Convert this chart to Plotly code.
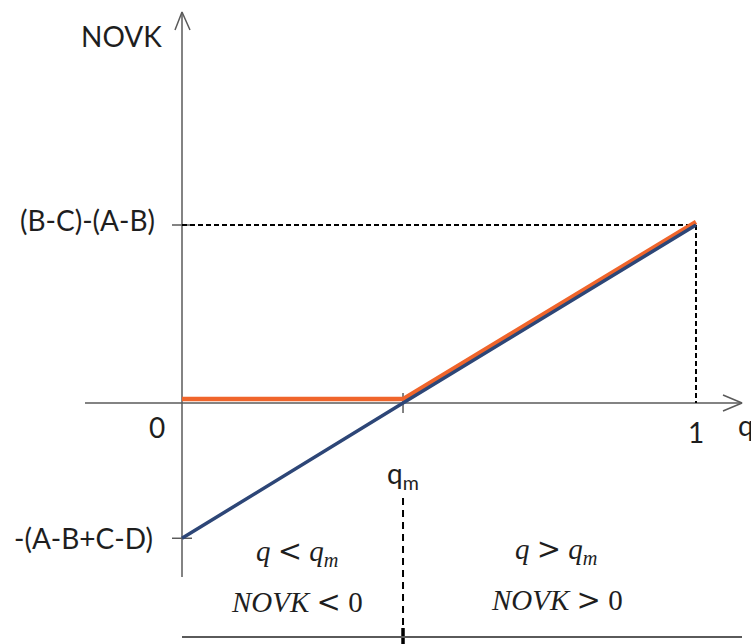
"""
NOVK payoff sketch: NOVK as a function of q, with the break-even point q_m.
"""
import plotly.graph_objects as go

# data
q_points = [0.0, 0.43, 1.0]              # 0, q_m, 1
novk_line = [-0.76, 0.0, 1.0]            # NOVK(q): -(A-B+C-D) ... (B-C)-(A-B)
novk_floor = [0.022, 0.022, 1.017]       # max(NOVK, 0), drawn just above the blue line
q_m = 0.43
top_value = 1.0
bottom_value = -0.76
y_tick_labels = ["(B-C)-(A-B)", "-(A-B+C-D)"]
x_tick_labels = ["0", "1"]
LT = "&nbsp;<span style='font-family:DejaVu Serif'>&lt;</span>&nbsp;"
GT = "&nbsp;<span style='font-family:DejaVu Serif'>&gt;</span>&nbsp;"
region_labels = [
    ("<i>q</i>" + LT + "<i>q<sub>m</sub></i>", "<i>NOVK</i>" + LT + "0"),
    ("<i>q</i>" + GT + "<i>q<sub>m</sub></i>", "<i>NOVK</i>" + GT + "0"),
]

W, H = 751, 644
PX_X = 1 / 514   # data units per pixel, horizontal
PX_Y = 1 / 178   # data units per pixel, vertical
x_range = [-182 * PX_X, (W - 182) * PX_X]
y_range = [-(H - 403) * PX_Y, 403 * PX_Y]

AXIS = "#5a5a5a"
BLUE = "#2d4677"
ORANGE = "#f0652b"
TEXT = "#1e1e1e"
LABEL_FONT = dict(family="Lato, Liberation Sans, sans-serif", size=28, color=TEXT)
MATH_FONT = dict(family="Liberation Serif, DejaVu Serif, serif", size=29, color=TEXT)

fig = go.Figure()


def seg(xs, ys, color, width, dash="solid"):
    fig.add_trace(go.Scatter(x=xs, y=ys, mode="lines", hoverinfo="skip",
                             line=dict(color=color, width=width, dash=dash)))


# axes with open arrow heads
y_top = 391 * PX_Y
y_bot = -174 * PX_Y
x_left = -97 * PX_X
x_right = 560 * PX_X
seg([0, 0], [y_bot, y_top], AXIS, 1.5)
seg([-7 * PX_X, 0, 8 * PX_X], [y_top - 18 * PX_Y, y_top, y_top - 18 * PX_Y], AXIS, 1.5)
seg([x_left, x_right], [0, 0], AXIS, 1.5)
seg([x_right - 19 * PX_X, x_right, x_right - 19 * PX_X], [8 * PX_Y, 0, -8 * PX_Y], AXIS, 1.5)

# ticks
seg([-10 * PX_X, 10 * PX_X], [top_value, top_value], AXIS, 1.5)
seg([-10 * PX_X, 10 * PX_X], [bottom_value, bottom_value], AXIS, 1.5)
seg([q_m, q_m], [-10 * PX_Y, 10 * PX_Y], AXIS, 1.5)

# guide lines
seg([0, 1], [top_value, top_value], "black", 2, "5px,3px")
seg([1, 1], [top_value, 0], "black", 2, "5px,3px")
seg([q_m, q_m], [-95 * PX_Y, -225 * PX_Y], "black", 2, "7px,5px")
seg([q_m, q_m], [-225 * PX_Y, -241 * PX_Y], "black", 3.5)
seg([0, x_right], [-234 * PX_Y, -234 * PX_Y], AXIS, 2)

# payoff lines
seg(q_points, novk_floor, ORANGE, 4.5)
seg(q_points, novk_line, BLUE, 3.5)


# labels
def label(text, x, y, font, xanchor="center", yanchor="middle"):
    fig.add_annotation(x=x, y=y, text=text, showarrow=False, font=font,
                       xanchor=xanchor, yanchor=yanchor)


label("NOVK", -18 * PX_X, 367 * PX_Y, LABEL_FONT, xanchor="right")
label(y_tick_labels[0], -25 * PX_X, top_value + 5 * PX_Y, LABEL_FONT, xanchor="right")
label(y_tick_labels[1], -27 * PX_X, bottom_value, LABEL_FONT, xanchor="right")
label(x_tick_labels[0], -25 * PX_X, -24 * PX_Y, LABEL_FONT)
label(x_tick_labels[1], 1, -29 * PX_Y, LABEL_FONT)
label("q", x_right - 6 * PX_X, -22 * PX_Y, LABEL_FONT, xanchor="left")
label("q<sub>m</sub>", q_m, -72 * PX_Y, LABEL_FONT)
label(region_labels[0][0], 115 * PX_X, -149 * PX_Y, MATH_FONT)
label(region_labels[0][1], 115 * PX_X, -199 * PX_Y, MATH_FONT)
label(region_labels[1][0], 374 * PX_X, -147 * PX_Y, MATH_FONT)
label(region_labels[1][1], 375 * PX_X, -197 * PX_Y, MATH_FONT)

fig.update_layout(
    width=W,
    height=H,
    margin=dict(l=0, r=0, t=0, b=0),
    paper_bgcolor="white",
    plot_bgcolor="white",
    showlegend=False,
    xaxis=dict(range=x_range, visible=False, fixedrange=True),
    yaxis=dict(range=y_range, visible=False, fixedrange=True),
)

# the page body has a default 8px margin; drop it so the figure fills the window
fig.write_html("out.html", config={"displayModeBar": False},
               post_script="document.body.style.margin='0';")
